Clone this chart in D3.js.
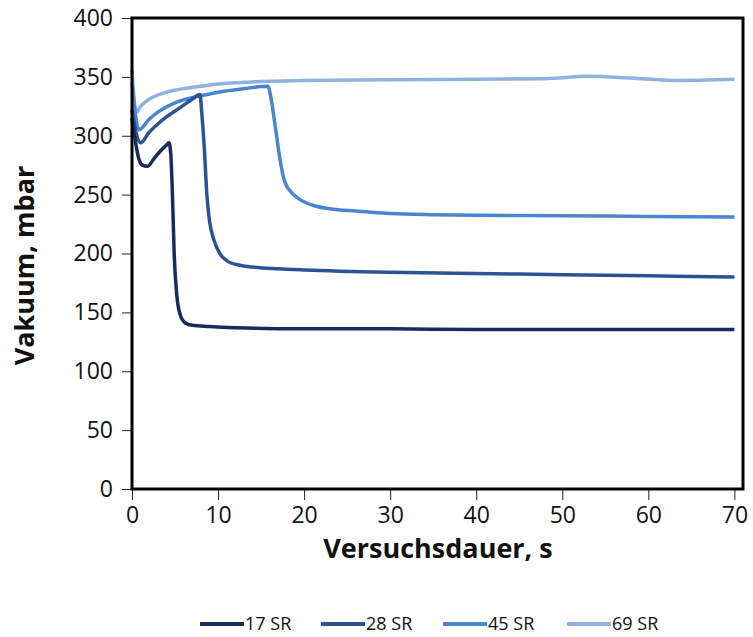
<!DOCTYPE html>
<html>
<head>
<meta charset="utf-8">
<script src="https://d3js.org/d3.v7.min.js"></script>
<style>
    body { margin: 0; background: #fff; }
    text { font-family: "Open Sans", "Liberation Sans", sans-serif; fill: #111; }
    .tick line { stroke: #222; }
</style>
</head>
<body>
<div id="chart"></div>
<script>
// series names and colours
var names = ['17 SR', '28 SR', '45 SR', '69 SR'];
var colors = ['#1b2a5c', '#2b5396', '#4a86cf', '#8fb3e0'];

// time [s] and vacuum [mbar]
var t17 = [0, 0.3, 0.7, 1.2, 1.8, 2.5, 3.3, 4.0, 4.3, 4.5, 4.7, 4.9, 5.2, 5.6, 6.2, 7, 9, 12, 20, 30, 40, 50, 60, 70];
var v17 = [315, 300, 283, 275, 274, 280, 287, 292, 294, 285, 250, 200, 165, 148, 141, 139, 138, 137, 136, 136, 135.5, 135.5, 135.5, 135.5];

var t28 = [0, 0.4, 1, 2, 3, 4, 5, 6, 7, 7.9, 8.1, 8.4, 8.7, 9.0, 9.5, 10.2, 11, 12.5, 14, 17, 20, 30, 40, 50, 60, 70];
var v28 = [322, 305, 294, 303, 310, 316, 321, 326, 331, 335, 320, 290, 250, 228, 212, 200, 194, 190, 188.5, 187, 186, 184, 183, 182, 181, 180];

var t45 = [0, 0.4, 0.8, 2, 3, 5, 8, 10, 13, 15.8, 16.2, 16.7, 17.2, 17.7, 18.5, 19.5, 21, 23, 26, 30, 35, 40, 50, 60, 70];
var v45 = [345, 318, 305, 314, 320, 328, 334, 337, 340, 342, 330, 305, 280, 262, 252, 246, 241, 238, 236, 234, 233, 232.5, 232, 231.5, 231];

var t69 = [0, 0.2, 0.5, 1, 2, 4, 6, 8, 10, 15, 20, 30, 40, 48, 53, 58, 63, 70];
var v69 = [356, 335, 320, 325, 331, 337, 340, 342, 344, 346, 347, 347.5, 348, 348.5, 350.5, 349, 347, 348];

var xTicks = [0, 10, 20, 30, 40, 50, 60, 70];
var yTicks = [0, 50, 100, 150, 200, 250, 300, 350, 400];

var W = 753, H = 637;
var margin = {top: 18, right: 10, bottom: 148, left: 132};
var width = W - margin.left - margin.right;
var height = H - margin.top - margin.bottom;

var svg = d3.select('#chart').append('svg')
    .attr('width', W)
    .attr('height', H);

var g = svg.append('g')
    .attr('transform', 'translate(' + margin.left + ',' + margin.top + ')');

var x = d3.scaleLinear().domain([0, 71]).range([0, width]);
var y = d3.scaleLinear().domain([0, 400]).range([height, 0]);

// axes
var xAxis = g.append('g')
    .attr('transform', 'translate(0,' + height + ')')
    .call(d3.axisBottom(x).tickValues(xTicks).tickSize(11).tickPadding(7));
var yAxis = g.append('g')
    .call(d3.axisLeft(y).tickValues(yTicks).tickSize(10).tickPadding(9));
[xAxis, yAxis].forEach(function(a) {
    a.select('.domain').remove();
    a.selectAll('text').style('font-size', '23px').attr('fill', '#111');
});

var series = [
    {name: names[0], t: t17, v: v17},
    {name: names[1], t: t28, v: v28},
    {name: names[2], t: t45, v: v45},
    {name: names[3], t: t69, v: v69}
];

var line = d3.line()
    .x(function(d) { return x(d[0]); })
    .y(function(d) { return y(d[1]); })
    .curve(d3.curveMonotoneX);

// lightest drawn first so the dark lines sit on top
series.slice().reverse().forEach(function(s) {
    var i = names.indexOf(s.name);
    g.append('path')
        .datum(d3.zip(s.t, s.v))
        .attr('fill', 'none')
        .attr('stroke', colors[i])
        .attr('stroke-width', 3.5)
        .attr('stroke-linejoin', 'round')
        .attr('d', line);
});

// plot frame
g.append('rect')
    .attr('width', width)
    .attr('height', height)
    .attr('fill', 'none')
    .attr('stroke', '#000')
    .attr('stroke-width', 3);

// axis titles
svg.append('text')
    .attr('transform', 'translate(34,' + (margin.top + height / 2 + 12) + ') rotate(-90)')
    .attr('text-anchor', 'middle')
    .style('font-size', '27px')
    .style('font-weight', 'bold')
    .text('Vakuum, mbar');

svg.append('text')
    .attr('x', 438)
    .attr('y', 558)
    .attr('text-anchor', 'middle')
    .style('font-size', '27px')
    .style('font-weight', 'bold')
    .text('Versuchsdauer, s');

// legend
var legendX = [200, 321, 443, 567];
var legend = svg.selectAll('.legend')
    .data(names)
    .enter()
    .append('g')
    .attr('class', 'legend')
    .attr('transform', function(d, i) { return 'translate(' + legendX[i] + ',624)'; });

legend.append('line')
    .attr('x1', 0).attr('x2', 44)
    .attr('stroke', function(d, i) { return colors[i]; })
    .attr('stroke-width', 4);

legend.append('text')
    .attr('x', 45)
    .attr('dy', '0.35em')
    .style('font-size', '18px')
    .text(function(d) { return d; });
</script>
</body>
</html>
